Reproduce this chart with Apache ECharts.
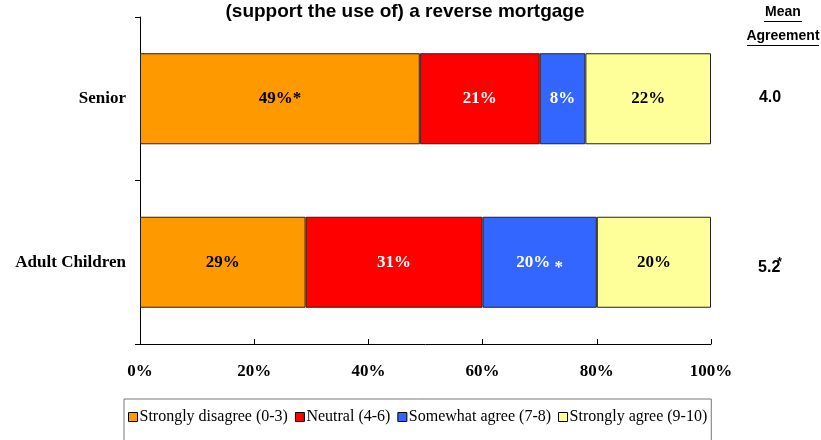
<!DOCTYPE html>
<html>
<head>
<meta charset="utf-8">
<script src="https://cdn.jsdelivr.net/npm/echarts@6/dist/echarts.min.js"></script>
<style>
  html, body { margin: 0; padding: 0; background: #fff; }
  #chart { width: 821px; height: 440px; }
</style>
</head>
<body>
<div id="chart"></div>
<script>
// Respondent groups (top to bottom)
const groups = ['Senior', 'Adult Children'];

// Response categories on the 0-10 agreement scale
const seriesNames = ['Strongly disagree (0-3)', 'Neutral (4-6)', 'Somewhat agree (7-8)', 'Strongly agree (9-10)'];

// Share of respondents (%) per group, one array per response category
const stronglyDisagree = [49, 29];
const neutral = [21, 31];
const somewhatAgree = [8, 20];
const stronglyAgree = [22, 20];

// Significance markers on individual segments: '' none, 'after' = right after, 'low' = lowered
const stronglyDisagreeMark = ['after', ''];
const neutralMark = ['', ''];
const somewhatAgreeMark = ['', 'low'];
const stronglyAgreeMark = ['', ''];

// Mean agreement per group and its significance flag
const meanAgreement = ['4.0', '5.2'];
const meanMarked = [false, true];

// Axis ticks
const xTicks = [0, 20, 40, 60, 80, 100];

const colors = ['#FF9900', '#FF0000', '#3366FF', '#FFFF99'];
const labelColors = ['#000', '#fff', '#fff', '#000'];
const values = [stronglyDisagree, neutral, somewhatAgree, stronglyAgree];
const marks = [stronglyDisagreeMark, neutralMark, somewhatAgreeMark, stronglyAgreeMark];

const serif = '"Liberation Serif", "Times New Roman", serif';
const sans = '"Liberation Sans", Arial, sans-serif';

const chart = echarts.init(document.getElementById('chart'), null, { renderer: 'canvas' });

const series = seriesNames.map((name, si) => ({
  name: name,
  type: 'bar',
  stack: 'total',
  barWidth: 91,
  data: values[si],
  itemStyle: { color: colors[si], borderColor: '#222', borderWidth: 1 },
  label: {
    show: true,
    position: 'inside',
    color: labelColors[si],
    fontFamily: serif,
    fontWeight: 'bold',
    fontSize: 17,
    formatter: p => {
      const m = marks[si][p.dataIndex];
      if (m === 'after') return '{v|' + p.value + '%*}';
      if (m === 'low') return '{v|' + p.value + '%} {s|*}';
      return '{v|' + p.value + '%}';
    },
    rich: {
      v: { color: labelColors[si], fontFamily: serif, fontWeight: 'bold', fontSize: 17 },
      s: { color: labelColors[si], fontFamily: serif, fontWeight: 'bold', fontSize: 17, padding: [11, 0, 0, 0] }
    }
  },
  emphasis: { disabled: true }
}));

chart.setOption({
  animation: false,
  backgroundColor: '#fff',
  grid: { left: 140, right: 110, top: 17, bottom: 96, containLabel: false },
  xAxis: {
    type: 'value',
    min: xTicks[0],
    max: xTicks[xTicks.length - 1],
    interval: xTicks[1] - xTicks[0],
    axisLine: { show: true, lineStyle: { color: '#000', width: 1 } },
    axisTick: { show: true, inside: true, length: 5, lineStyle: { color: '#000' } },
    splitLine: { show: false },
    axisLabel: {
      formatter: '{value}%',
      color: '#000',
      fontFamily: serif,
      fontWeight: 'bold',
      fontSize: 17,
      margin: 19
    }
  },
  yAxis: {
    type: 'category',
    data: groups,
    inverse: true,
    axisLine: { show: true, lineStyle: { color: '#000', width: 1 } },
    axisTick: { show: true, inside: false, length: 5, lineStyle: { color: '#000' } },
    axisLabel: {
      color: '#000',
      fontFamily: serif,
      fontWeight: 'bold',
      fontSize: 17,
      margin: 14
    }
  },
  legend: {
    top: 399,
    left: 124,
    icon: 'rect',
    itemWidth: 9,
    itemHeight: 9,
    itemGap: 7,
    padding: [10, 4, 30, 4],
    borderColor: '#777',
    borderWidth: 1,
    itemStyle: { borderColor: '#000', borderWidth: 1 },
    textStyle: { color: '#000', fontFamily: serif, fontSize: 16, padding: [0, 0, 0, -3] },
    data: seriesNames
  },
  series: series
});

// Title, mean-agreement header and per-group means
const graphics = [
  {
    type: 'text',
    x: 405, y: 12,
    style: { text: '(support the use of) a reverse mortgage', font: 'bold 19px ' + sans, fill: '#000', align: 'center', verticalAlign: 'middle' }
  },
  {
    type: 'text',
    x: 783, y: 12,
    style: { text: 'Mean', font: 'bold 14px ' + sans, fill: '#000', align: 'center', verticalAlign: 'middle' }
  },
  {
    type: 'line',
    shape: { x1: 764, y1: 21.5, x2: 802, y2: 21.5 },
    style: { stroke: '#000', lineWidth: 1 }
  },
  {
    type: 'text',
    x: 783, y: 36,
    style: { text: 'Agreement', font: 'bold 14px ' + sans, fill: '#000', align: 'center', verticalAlign: 'middle' }
  },
  {
    type: 'line',
    shape: { x1: 747, y1: 45.5, x2: 819, y2: 45.5 },
    style: { stroke: '#000', lineWidth: 1 }
  }
];

// Vertical nudge of each mean value relative to its bar centre
const meanNudge = [-1, 5];

groups.forEach((g, i) => {
  const y = chart.convertToPixel({ yAxisIndex: 0 }, g);
  graphics.push({
    type: 'text',
    x: 770, y: y + meanNudge[i],
    style: {
      text: meanAgreement[i] + (meanMarked[i] ? '{s|*}' : ''),
      font: 'bold 16px ' + sans,
      fill: '#000',
      align: 'center',
      verticalAlign: 'middle',
      rich: { s: { font: 'bold 12px ' + sans, fill: '#000', padding: [0, 0, 9, -3] } }
    }
  });
});

chart.setOption({ graphic: graphics });
</script>
</body>
</html>
